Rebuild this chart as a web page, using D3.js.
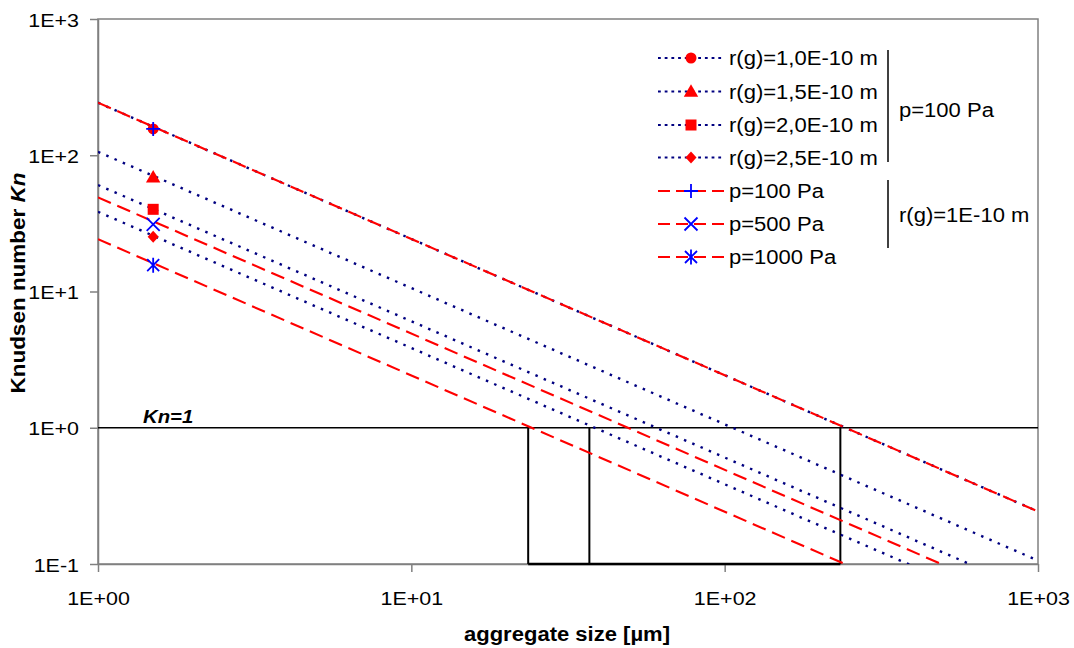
<!DOCTYPE html>
<html>
<head>
<meta charset="utf-8">
<script src="https://cdn.jsdelivr.net/npm/d3@7"></script>
<style>
  html, body { margin: 0; padding: 0; background: #fff; }
  svg { display: block; font-family: "Liberation Sans", Arial, sans-serif; }
</style>
</head>
<body>
<svg id="chart" width="1074" height="648"></svg>
<script>
// ---------- data ----------
const xTickValues = [1, 10, 100, 1000];
const xTickLabels = ["1E+00", "1E+01", "1E+02", "1E+03"];
const yTickValues = [0.1, 1, 10, 100, 1000];
const yTickLabels = ["1E-1", "1E+0", "1E+1", "1E+2", "1E+3"];

// aggregate sizes at which each line is given (line end points)
const lineSizes = [1, 1000];
// Knudsen numbers at those sizes
const knRg10  = [243, 0.243];   // r(g)=1,0E-10 m, p=100 Pa
const knRg15  = [106, 0.106];   // r(g)=1,5E-10 m
const knRg20  = [60.5, 0.0605]; // r(g)=2,0E-10 m
const knRg25  = [38.5, 0.0385]; // r(g)=2,5E-10 m
const knP100  = [243, 0.243];   // p=100 Pa, r(g)=1E-10 m
const knP500  = [49.1, 0.0491]; // p=500 Pa
const knP1000 = [24.2, 0.0242]; // p=1000 Pa

// single marker point of every series
const markerSize = 1.5;
const markerKn = [156, 68.9, 40.1, 25.2, 156, 31.1, 15.6];

const seriesNames = ["r(g)=1,0E-10 m", "r(g)=1,5E-10 m", "r(g)=2,0E-10 m", "r(g)=2,5E-10 m",
                     "p=100 Pa", "p=500 Pa", "p=1000 Pa"];
const seriesKn = [knRg10, knRg15, knRg20, knRg25, knP100, knP500, knP1000];
const seriesKind = ["dot", "dot", "dot", "dot", "dash", "dash", "dash"];
const seriesMarker = ["circle", "triangle", "square", "diamond", "plus", "cross", "asterisk"];

// Kn = 1 reference and the boxes below it
const knOne = 1;
const knBottom = 0.1;
const boxSizes = [23.6, 37.0, 234];

// ---------- layout ----------
const svg = d3.select("#chart");
const pLeft = 98, pRight = 1038, pTop = 19, pBottom = 564;
const x = d3.scaleLog().domain([1, 1000]).range([pLeft, pRight]);
const y = d3.scaleLog().domain([0.1, 1000]).range([pBottom, pTop]);
const SX = 1.13; // horizontal stretch of text in the reference
const font = '"Liberation Sans", Arial, sans-serif';

const navy = "#000080", red = "#ff0000", blue = "#0000ff", gray = "#808080";
const dotPattern = "2.5,6.5";
const dashPattern = "14,7";

svg.append("defs").append("clipPath").attr("id", "plotclip")
  .append("rect").attr("x", pLeft).attr("y", pTop)
  .attr("width", pRight - pLeft).attr("height", pBottom - pTop);

// plot border (top/right)
svg.append("rect").attr("x", pLeft).attr("y", pTop)
  .attr("width", pRight - pLeft).attr("height", pBottom - pTop)
  .attr("fill", "none").attr("stroke", gray).attr("stroke-width", 1.5);

// axes
const xAxis = d3.axisBottom(x).tickValues(xTickValues)
  .tickFormat((d, i) => xTickLabels[i]).tickSize(8).tickSizeOuter(0);
const gx = svg.append("g").attr("transform", `translate(0,${pBottom})`).call(xAxis);
gx.select(".domain").attr("stroke", gray).attr("stroke-width", 1.5);
gx.selectAll(".tick line").attr("stroke", gray).attr("stroke-width", 1.5);
gx.selectAll(".tick text")
  .attr("y", 41).attr("dy", 0).attr("fill", "#000")
  .attr("font-family", font).attr("font-size", 19)
  .attr("transform", `scale(${SX},1)`);

const yAxis = d3.axisLeft(y).tickValues(yTickValues)
  .tickFormat((d, i) => yTickLabels[i]).tickSize(8).tickSizeOuter(0);
const gy = svg.append("g").attr("transform", `translate(${pLeft},0)`).call(yAxis);
gy.select(".domain").attr("stroke", gray).attr("stroke-width", 1.5);
gy.selectAll(".tick line").attr("stroke", gray).attr("stroke-width", 1.5);
gy.selectAll(".tick text")
  .attr("x", -19 / SX).attr("dy", 0).attr("y", 7).attr("fill", "#000")
  .attr("font-family", font).attr("font-size", 19)
  .attr("transform", `scale(${SX},1)`);

// Kn=1 line and boxes
const ref = svg.append("g").attr("clip-path", "url(#plotclip)");
ref.append("line")
  .attr("x1", x(1)).attr("x2", x(1000)).attr("y1", y(knOne)).attr("y2", y(knOne))
  .attr("stroke", "#000").attr("stroke-width", 1.6);
boxSizes.forEach(s => {
  ref.append("line").attr("x1", x(s)).attr("x2", x(s))
    .attr("y1", y(knOne)).attr("y2", y(knBottom))
    .attr("stroke", "#000").attr("stroke-width", 2);
});
svg.append("line")
  .attr("x1", x(boxSizes[0])).attr("x2", x(boxSizes[boxSizes.length - 1]))
  .attr("y1", y(knBottom)).attr("y2", y(knBottom))
  .attr("stroke", "#000").attr("stroke-width", 2.6);

// series lines
const lineGen = d3.line().x(d => x(d[0])).y(d => y(d[1]));
const lines = svg.append("g").attr("clip-path", "url(#plotclip)");
seriesKn.forEach((kn, i) => {
  const pts = lineSizes.map((s, j) => [s, kn[j]]);
  const isDot = seriesKind[i] === "dot";
  lines.append("path").datum(pts).attr("d", lineGen)
    .attr("fill", "none")
    .attr("stroke", isDot ? navy : red)
    .attr("stroke-width", isDot ? 2.4 : 2.1)
    .attr("stroke-dasharray", isDot ? dotPattern : dashPattern);
});

// markers
function drawMarker(g, type, cx, cy) {
  if (type === "circle") {
    g.append("circle").attr("cx", cx).attr("cy", cy).attr("r", 5.5).attr("fill", red);
  } else if (type === "triangle") {
    g.append("path").attr("d", d3.symbol(d3.symbolTriangle, 90)())
      .attr("transform", `translate(${cx},${cy + 1})`).attr("fill", red);
  } else if (type === "square") {
    g.append("rect").attr("x", cx - 5.5).attr("y", cy - 5.5).attr("width", 11).attr("height", 11).attr("fill", red);
  } else if (type === "diamond") {
    g.append("path").attr("d", `M${cx},${cy - 6}L${cx + 5.5},${cy}L${cx},${cy + 6}L${cx - 5.5},${cy}Z`).attr("fill", red);
  } else if (type === "plus") {
    g.append("path").attr("d", `M${cx - 7},${cy}H${cx + 7}M${cx},${cy - 7}V${cy + 7}`)
      .attr("stroke", blue).attr("stroke-width", 1.8).attr("fill", "none");
  } else if (type === "cross") {
    g.append("path").attr("d", `M${cx - 6.5},${cy - 6.5}L${cx + 6.5},${cy + 6.5}M${cx - 6.5},${cy + 6.5}L${cx + 6.5},${cy - 6.5}`)
      .attr("stroke", blue).attr("stroke-width", 1.8).attr("fill", "none");
  } else if (type === "asterisk") {
    g.append("path").attr("d", `M${cx - 6},${cy - 6}L${cx + 6},${cy + 6}M${cx - 6},${cy + 6}L${cx + 6},${cy - 6}M${cx},${cy - 7.5}V${cy + 7.5}`)
      .attr("stroke", blue).attr("stroke-width", 1.8).attr("fill", "none");
  }
}
const mk = svg.append("g");
markerKn.forEach((kn, i) => drawMarker(mk, seriesMarker[i], x(markerSize), y(kn)));

// stretched text helper
function txt(g, s, tx, ty, size, opts = {}) {
  const t = g.append("text")
    .attr("transform", `translate(${tx},${ty}) scale(${SX},1)`)
    .attr("font-family", font).attr("font-size", size).attr("fill", "#000")
    .attr("text-anchor", opts.anchor || "start");
  if (opts.weight) t.attr("font-weight", opts.weight);
  if (opts.style) t.attr("font-style", opts.style);
  t.text(s);
  return t;
}

// Kn=1 label
txt(svg, "Kn=1", 143, 423, 18, { weight: "bold", style: "italic" });

// axis titles
txt(svg, "aggregate size [µm]", 567, 641, 19.5, { weight: "bold", anchor: "middle" });
const yt = svg.append("text")
  .attr("transform", "translate(25,283) scale(0.88,1) rotate(-90)")
  .attr("font-family", font).attr("font-size", 22.5).attr("font-weight", "bold")
  .attr("text-anchor", "middle");
yt.append("tspan").text("Knudsen number ");
yt.append("tspan").attr("font-style", "italic").text("Kn");

// legend
const lg = svg.append("g");
const rowY = [58, 91.5, 125, 157.5, 191, 224, 257];
seriesNames.forEach((name, i) => {
  const isDot = seriesKind[i] === "dot";
  lg.append("line").attr("x1", 658).attr("x2", 724).attr("y1", rowY[i]).attr("y2", rowY[i])
    .attr("stroke", isDot ? navy : red).attr("stroke-width", 2)
    .attr("stroke-dasharray", isDot ? "2.8,3.9" : "12,6");
  drawMarker(lg, seriesMarker[i], 691, rowY[i]);
  txt(lg, name, 729, rowY[i] + 7, 19.5);
});
lg.append("line").attr("x1", 888).attr("x2", 888).attr("y1", 50).attr("y2", 162)
  .attr("stroke", "#000").attr("stroke-width", 1.5);
txt(lg, "p=100 Pa", 899, 117, 19.5);
lg.append("line").attr("x1", 888).attr("x2", 888).attr("y1", 180).attr("y2", 248)
  .attr("stroke", "#000").attr("stroke-width", 1.5);
txt(lg, "r(g)=1E-10 m", 899, 222, 19.5);
</script>
</body>
</html>
